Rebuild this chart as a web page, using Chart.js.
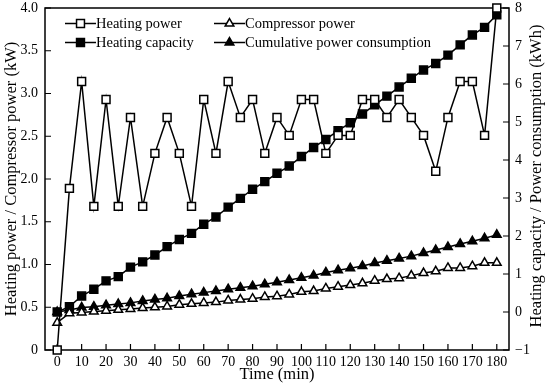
<!DOCTYPE html>
<html lang="en">

<head>
    <meta charset="UTF-8">
    <title>Heating power and consumption</title>
    <script src="https://cdn.jsdelivr.net/npm/chart.js@4.4.0/dist/chart.umd.min.js"></script>
    <style>
        body { margin: 0; background: #fff; }
    </style>
</head>

<body>
    <canvas id="heatChart" width="550" height="387"></canvas>
    <script>
        // time in minutes
        const times = [0, 5, 10, 15, 20, 25, 30, 35, 40, 45, 50, 55, 60, 65, 70, 75, 80, 85, 90,
            95, 100, 105, 110, 115, 120, 125, 130, 135, 140, 145, 150, 155, 160, 165, 170, 175, 180];
        // left axis (kW)
        const heatingPower = [0, 1.89, 3.14, 1.68, 2.93, 1.68, 2.72, 1.68, 2.30, 2.72, 2.30, 1.68, 2.93, 2.30, 3.14, 2.72, 2.93, 2.30, 2.72,
            2.51, 2.93, 2.93, 2.30, 2.51, 2.51, 2.93, 2.93, 2.72, 2.93, 2.72, 2.51, 2.09, 2.72, 3.14, 3.14, 2.51, 4.0];
        const compressorPower = [0.32, 0.43, 0.44, 0.45, 0.46, 0.47, 0.48, 0.49, 0.50, 0.51, 0.53, 0.54, 0.55, 0.56, 0.58, 0.59, 0.60, 0.62, 0.63,
            0.65, 0.68, 0.69, 0.72, 0.74, 0.76, 0.78, 0.81, 0.83, 0.84, 0.87, 0.90, 0.92, 0.96, 0.96, 0.98, 1.02, 1.02];
        // right axis (kWh)
        const heatingCapacity = [0, 0.14, 0.42, 0.60, 0.82, 0.93, 1.18, 1.32, 1.50, 1.72, 1.91, 2.07, 2.31, 2.50, 2.76, 2.99, 3.23, 3.43, 3.65,
            3.84, 4.09, 4.33, 4.54, 4.77, 4.98, 5.21, 5.45, 5.68, 5.92, 6.15, 6.37, 6.54, 6.76, 7.03, 7.29, 7.49, 7.82];
        const cumulativePower = [0, 0.05, 0.12, 0.14, 0.18, 0.21, 0.24, 0.29, 0.33, 0.36, 0.42, 0.47, 0.51, 0.55, 0.60, 0.64, 0.68, 0.73, 0.78,
            0.84, 0.90, 0.96, 1.04, 1.10, 1.15, 1.21, 1.29, 1.35, 1.41, 1.47, 1.55, 1.63, 1.71, 1.79, 1.86, 1.94, 2.03];

        const xTicks = [0, 10, 20, 30, 40, 50, 60, 70, 80, 90, 100, 110, 120, 130, 140, 150, 160, 170, 180];
        const leftTicks = [0, 0.5, 1.0, 1.5, 2.0, 2.5, 3.0, 3.5, 4.0];
        const rightTicks = [-1, 0, 1, 2, 3, 4, 5, 6, 7, 8];

        const serif = '"Liberation Serif", "Times New Roman", serif';

        function pts(arr) {
            return times.map(function (t, i) { return { x: t, y: arr[i] }; });
        }

        function series(label, arr, axis, style, filled, radius) {
            return {
                label: label,
                data: pts(arr),
                yAxisID: axis,
                borderColor: '#000',
                borderWidth: 1.5,
                pointStyle: style,
                pointRadius: radius,
                pointBorderWidth: 1.5,
                pointBorderColor: '#000',
                pointBackgroundColor: filled ? '#000' : '#fff',
                tension: 0,
                clip: false
            };
        }

        // frame, inward tick marks, axis titles, legend
        const decor = {
            id: 'decor',
            beforeDatasetsDraw(chart) {
                const ctx = chart.ctx, a = chart.chartArea;
                const sx = chart.scales.x, yl = chart.scales.yL, yr = chart.scales.yR;
                ctx.save();
                ctx.strokeStyle = '#000';
                ctx.lineWidth = 1.5;
                ctx.strokeRect(a.left, a.top, a.right - a.left, a.bottom - a.top);
                ctx.lineWidth = 1.2;
                ctx.beginPath();
                xTicks.forEach(function (v) {
                    const px = sx.getPixelForValue(v);
                    ctx.moveTo(px, a.bottom); ctx.lineTo(px, a.bottom - 6);
                });
                leftTicks.forEach(function (v) {
                    const py = yl.getPixelForValue(v);
                    ctx.moveTo(a.left, py); ctx.lineTo(a.left + 6, py);
                });
                rightTicks.forEach(function (v) {
                    const py = yr.getPixelForValue(v);
                    ctx.moveTo(a.right, py); ctx.lineTo(a.right - 6, py);
                });
                ctx.stroke();
                ctx.restore();
            },
            afterDraw(chart) {
                const ctx = chart.ctx, a = chart.chartArea;
                const midY = (a.top + a.bottom) / 2;
                ctx.save();
                ctx.fillStyle = '#000';
                ctx.font = '16.5px ' + serif;
                ctx.textAlign = 'center';
                ctx.textBaseline = 'middle';
                ctx.save();
                ctx.translate(12, midY);
                ctx.rotate(-Math.PI / 2);
                ctx.fillText('Heating power / Compressor power (kW)', 0, 0);
                ctx.restore();
                ctx.save();
                ctx.translate(537, midY - 3);
                ctx.rotate(-Math.PI / 2);
                ctx.fillText('Heating capacity / Power consumption (kWh)', 0, 0);
                ctx.restore();
                ctx.fillText('Time (min)', (a.left + a.right) / 2, 375);

                // legend: two columns
                const spots = [[65, 23.5], [214, 23.5], [65, 42.5], [214, 42.5]];
                ctx.font = '14.5px ' + serif;
                ctx.textAlign = 'left';
                chart.data.datasets.forEach(function (ds, i) {
                    const p = spots[i];
                    ctx.strokeStyle = '#000';
                    ctx.lineWidth = 1.5;
                    ctx.beginPath();
                    ctx.moveTo(p[0], p[1]); ctx.lineTo(p[0] + 31, p[1]);
                    ctx.stroke();
                    ctx.fillStyle = ds.pointBackgroundColor;
                    Chart.helpers.drawPoint(ctx, {
                        pointStyle: ds.pointStyle, radius: ds.pointRadius,
                        rotation: 0, borderWidth: ds.pointBorderWidth
                    }, p[0] + 15.5, p[1]);
                    ctx.fillStyle = '#000';
                    ctx.fillText(ds.label, p[0] + 31, p[1] + 0.5);
                });
                ctx.restore();
            }
        };

        function fitY(w) {
            return function (s) { s.width = w; s.paddingTop = 0; s.paddingBottom = 0; };
        }

        new Chart(document.getElementById('heatChart').getContext('2d'), {
            type: 'line',
            data: {
                datasets: [
                    series('Heating power', heatingPower, 'yL', 'rect', false, 5.6),
                    series('Compressor power', compressorPower, 'yL', 'triangle', false, 5),
                    series('Heating capacity', heatingCapacity, 'yR', 'rect', true, 5.6),
                    series('Cumulative power consumption', cumulativePower, 'yR', 'triangle', true, 5)
                ]
            },
            options: {
                responsive: false,
                animation: false,
                layout: { padding: { top: 8 } },
                plugins: { legend: { display: false }, tooltip: { enabled: false } },
                scales: {
                    x: {
                        type: 'linear', min: -5, max: 185,
                        grid: { display: false, drawTicks: false }, border: { display: false },
                        afterBuildTicks: function (s) { s.ticks = xTicks.map(function (v) { return { value: v }; }); },
                        afterFit: function (s) { s.height = 37; s.paddingLeft = 0; s.paddingRight = 0; },
                        ticks: { color: '#000', padding: 4, maxRotation: 0, autoSkip: false, font: { family: serif, size: 14 } }
                    },
                    yL: {
                        position: 'left', min: 0, max: 4,
                        grid: { display: false, drawTicks: false }, border: { display: false },
                        afterBuildTicks: function (s) { s.ticks = leftTicks.map(function (v) { return { value: v }; }); },
                        afterFit: fitY(45),
                        ticks: {
                            color: '#000', padding: 7, font: { family: serif, size: 14 },
                            callback: function (v) { return v === 0 ? '0' : v.toFixed(1); }
                        }
                    },
                    yR: {
                        position: 'right', min: -1, max: 8,
                        grid: { display: false, drawTicks: false }, border: { display: false },
                        afterBuildTicks: function (s) { s.ticks = rightTicks.map(function (v) { return { value: v }; }); },
                        afterFit: fitY(41),
                        ticks: {
                            color: '#000', padding: 6, font: { family: serif, size: 14 },
                            callback: function (v) { return v < 0 ? '\u2212' + Math.abs(v) : String(v); }
                        }
                    }
                }
            },
            plugins: [decor]
        });
    </script>
</body>

</html>
